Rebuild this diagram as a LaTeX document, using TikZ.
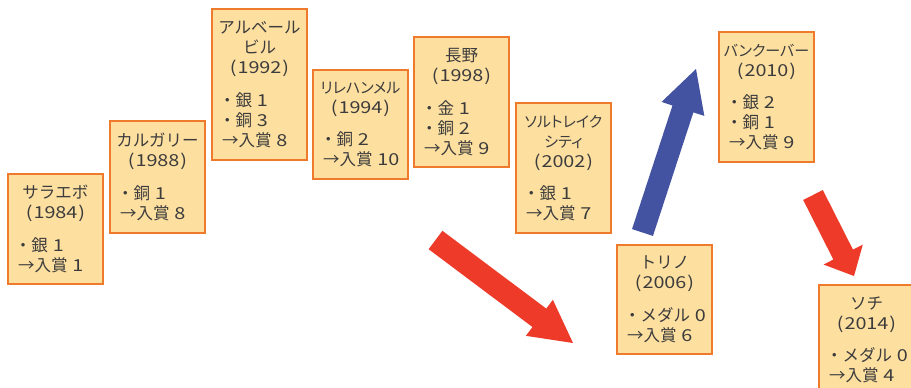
\documentclass[tikz,border=0pt]{standalone}
\usepackage{fontspec}
\setmainfont{Noto Sans CJK JP}
\newfontfamily\digfont[FakeStretch=1.2]{Noto Sans CJK JP}
\newfontfamily\pfont[RawFeature=+palt]{Noto Sans CJK JP}
\usetikzlibrary{calc}
\definecolor{boxfill}{RGB}{253,223,160}
\definecolor{boxline}{RGB}{240,122,44}
\definecolor{txt}{RGB}{60,60,60}
\definecolor{arrred}{RGB}{238,58,41}
\definecolor{arrblue}{RGB}{67,83,162}
\newcommand\dg[1]{\hspace{1.5pt}{\digfont #1}}
\newcommand\yr[1]{{\digfont(\kern1pt#1\kern1pt)}}
\newcommand\ar{\hspace*{3pt}→}
\newcommand\olc[2]{{\centering\fontsize{16.5}{20}\selectfont #1\par}\vspace{12.5pt}{\leftskip=7pt\fontsize{16.5}{20}\selectfont #2\par}}
\newcommand\sm[2]{{\pfont\fontsize{#1}{20}\selectfont #2}}
\newcommand\fatarrow[6]{%
  \fill[#1] ($(#2)!#4/2!90:(#3)$)
    -- ($($(#3)!#6!(#2)$)!#4/2!90:(#3)$)
    -- ($($(#3)!#6!(#2)$)!#5/2!90:(#3)$)
    -- (#3)
    -- ($($(#3)!#6!(#2)$)!#5/2!-90:(#3)$)
    -- ($($(#3)!#6!(#2)$)!#4/2!-90:(#3)$)
    -- ($(#2)!#4/2!-90:(#3)$) -- cycle;}
\tikzset{
  olbox/.style={draw=boxline, fill=boxfill, line width=1.6pt, inner xsep=0pt, inner ysep=0pt,
    outer sep=0pt, minimum width=95pt, text width=95pt, anchor=north west, text=txt}
}
\begin{document}
\begin{tikzpicture}[x=1pt,y=-1pt]
\clip (0,0) rectangle (911,388);
\fill[white] (0,0) rectangle (911,388);
\node[olbox, minimum height=110pt] (sarajevo) at (8,174) {\olc{サラエボ\\\yr{1984}}{・銀 \dg{1}\\\ar 入賞 \dg{1}}};
\node[olbox, minimum height=112pt] (calgary) at (110,121) {\olc{カルガリー\\\yr{1988}}{・銅 \dg{1}\\\ar 入賞 \dg{8}}};
\node[olbox, minimum height=151pt] (albertville) at (212,9) {\olc{アルベール\\ビル\\\yr{1992}}{・銀 \dg{1}\\・銅 \dg{3}\\\ar 入賞 \dg{8}}};
\node[olbox, minimum height=109pt] (lillehammer) at (313,70) {\olc{\sm{15}{リレハンメル}\\\yr{1994}}{・銅 \dg{2}\\\ar 入賞 \dg{10}}};
\node[olbox, minimum height=130pt] (nagano) at (414,37) {\olc{長野\\\yr{1998}}{・金 \dg{1}\\・銅 \dg{2}\\\ar 入賞 \dg{9}}};
\node[olbox, minimum height=130pt] (saltlake) at (516,103) {\olc{\sm{15}{ソルトレイク}\\\sm{15}{シティ}\\\yr{2002}}{・銀 \dg{1}\\\ar 入賞 \dg{7}}};
\node[olbox, minimum height=109pt] (torino) at (617,245) {\olc{トリノ\\\yr{2006}}{・メダル \dg{0}\\\ar 入賞 \dg{6}}};
\node[olbox, minimum height=130pt] (vancouver) at (719,32) {\olc{\sm{15}{バンクーバー}\\\yr{2010}}{・銀 \dg{2}\\・銅 \dg{1}\\\ar 入賞 \dg{9}}};
\node[olbox, minimum height=110pt] (sochi) at (819,285) {\olc{ソチ\\\yr{2014}}{・メダル \dg{0}\\\ar 入賞 \dg{4}}};
\coordinate (a1s) at (435.5,240);
\coordinate (a1e) at (573,343);
\coordinate (a2s) at (642.5,232.5);
\coordinate (a2e) at (696,69);
\coordinate (a3s) at (813,195);
\coordinate (a3e) at (854,276);
\fatarrow{arrred}{a1s}{a1e}{23pt}{45pt}{42pt}
\fatarrow{arrblue}{a2s}{a2e}{22pt}{45pt}{42pt}
\fatarrow{arrred}{a3s}{a3e}{22pt}{44pt}{24pt}
\end{tikzpicture}
\end{document}
